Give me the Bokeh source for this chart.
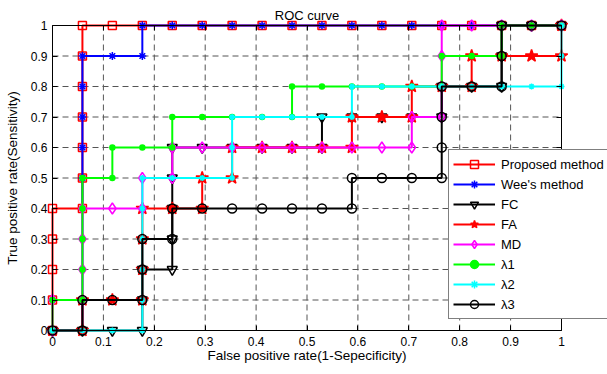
from bokeh.plotting import figure
from bokeh.models import Range1d, LinearAxis, FixedTicker, Legend, LegendItem, Label
from bokeh.embed import file_html
from bokeh.resources import INLINE

FONT = "Liberation Sans"

# ---------------- data ----------------
ticks = [0, 0.1, 0.2, 0.3, 0.4, 0.5, 0.6, 0.7, 0.8, 0.9, 1]
tick_labels = ["0", "0.1", "0.2", "0.3", "0.4", "0.5", "0.6", "0.7", "0.8", "0.9", "1"]

series_names = ["Proposed method", "Wee's method", "FC", "FA", "MD", "λ1", "λ2", "λ3"]

proposed_x = [0, 0, 0, 0, 0, 0.0588, 0.0588, 0.0588, 0.0588, 0.0588, 0.0588, 0.0588,
              0.1176, 0.1765, 0.2353, 0.2941, 0.3529, 0.4118, 0.4706, 0.5294, 0.5882,
              0.6471, 0.7059, 0.7647, 0.8235, 0.8824, 0.9412, 1]
proposed_y = [0, 0.1, 0.2, 0.3, 0.4, 0.4, 0.5, 0.6, 0.7, 0.8, 0.9, 1,
              1, 1, 1, 1, 1, 1, 1, 1, 1, 1, 1, 1, 1, 1, 1, 1]

wee_x = [0, 0.0588, 0.0588, 0.0588, 0.0588, 0.0588, 0.0588, 0.1176, 0.1765, 0.1765,
         0.2353, 0.2941, 0.3529, 0.4118, 0.4706, 0.5294, 0.5882, 0.6471, 0.7059,
         0.7647, 0.8235, 0.8824, 0.9412, 1]
wee_y = [0, 0, 0.5, 0.6, 0.7, 0.8, 0.9, 0.9, 0.9, 1,
         1, 1, 1, 1, 1, 1, 1, 1, 1, 1, 1, 1, 1, 1]

fc_x = [0, 0.0588, 0.1176, 0.1765, 0.1765, 0.1765, 0.2353, 0.2353, 0.2353, 0.2353,
        0.2353, 0.2941, 0.3529, 0.4118, 0.4706, 0.5294, 0.5294, 0.5882, 0.6471,
        0.7059, 0.7647, 0.7647, 0.8235, 0.8824, 0.8824, 0.8824, 0.9412, 1]
fc_y = [0, 0, 0, 0, 0.1, 0.2, 0.2, 0.3, 0.4, 0.5,
        0.6, 0.6, 0.6, 0.6, 0.6, 0.6, 0.7, 0.7, 0.7,
        0.7, 0.7, 0.8, 0.8, 0.8, 0.9, 1, 1, 1]

fa_x = [0, 0.0588, 0.0588, 0.1176, 0.1765, 0.1765, 0.1765, 0.1765, 0.2353, 0.2941,
        0.2941, 0.3529, 0.3529, 0.4118, 0.4706, 0.5294, 0.5882, 0.5882, 0.6471,
        0.7059, 0.7059, 0.7647, 0.8235, 0.8235, 0.8824, 0.9412, 1, 1]
fa_y = [0, 0, 0.1, 0.1, 0.1, 0.2, 0.3, 0.4, 0.4, 0.4,
        0.5, 0.5, 0.6, 0.6, 0.6, 0.6, 0.6, 0.7, 0.7,
        0.7, 0.8, 0.8, 0.8, 0.9, 0.9, 0.9, 0.9, 1]

md_x = [0, 0, 0.0588, 0.0588, 0.0588, 0.0588, 0.1176, 0.1765, 0.1765, 0.2353,
        0.2353, 0.2941, 0.3529, 0.4118, 0.4706, 0.5294, 0.5882, 0.6471, 0.7059,
        0.7059, 0.7647, 0.7647, 0.7647, 0.7647, 0.8235, 0.8824, 0.9412, 1]
md_y = [0, 0.1, 0.1, 0.2, 0.3, 0.4, 0.4, 0.4, 0.5, 0.5,
        0.6, 0.6, 0.6, 0.6, 0.6, 0.6, 0.6, 0.6, 0.6,
        0.7, 0.7, 0.8, 0.9, 1, 1, 1, 1, 1]

l1_x = [0, 0, 0.0588, 0.0588, 0.0588, 0.0588, 0.0588, 0.1176, 0.1176, 0.1765,
        0.2353, 0.2353, 0.2941, 0.3529, 0.4118, 0.4706, 0.4706, 0.5294, 0.5882,
        0.6471, 0.7059, 0.7647, 0.7647, 0.8235, 0.8824, 0.8824, 0.9412, 1]
l1_y = [0, 0.1, 0.1, 0.2, 0.3, 0.4, 0.5, 0.5, 0.6, 0.6,
        0.6, 0.7, 0.7, 0.7, 0.7, 0.7, 0.8, 0.8, 0.8,
        0.8, 0.8, 0.8, 0.9, 0.9, 0.9, 1, 1, 1]

l2_x = [0, 0.0588, 0.1176, 0.1765, 0.1765, 0.1765, 0.1765, 0.1765, 0.1765, 0.2353,
        0.2941, 0.3529, 0.3529, 0.3529, 0.4118, 0.4706, 0.5294, 0.5882, 0.5882,
        0.6471, 0.7059, 0.7647, 0.8235, 0.8824, 0.9412, 1, 1, 1]
l2_y = [0, 0, 0, 0, 0.1, 0.2, 0.3, 0.4, 0.5, 0.5,
        0.5, 0.5, 0.6, 0.7, 0.7, 0.7, 0.7, 0.7, 0.8,
        0.8, 0.8, 0.8, 0.8, 0.8, 0.8, 0.8, 0.9, 1]

l3_x = [0, 0.0588, 0.0588, 0.1176, 0.1765, 0.1765, 0.1765, 0.2353, 0.2353, 0.2941,
        0.3529, 0.4118, 0.4706, 0.5294, 0.5882, 0.5882, 0.6471, 0.7059, 0.7647,
        0.7647, 0.7647, 0.7647, 0.8235, 0.8824, 0.8824, 0.8824, 0.9412, 1]
l3_y = [0, 0, 0.1, 0.1, 0.1, 0.2, 0.3, 0.3, 0.4, 0.4,
        0.4, 0.4, 0.4, 0.4, 0.4, 0.5, 0.5, 0.5, 0.5,
        0.6, 0.7, 0.8, 0.8, 0.8, 0.9, 1, 1, 1]

series_x = [proposed_x, wee_x, fc_x, fa_x, md_x, l1_x, l2_x, l3_x]
series_y = [proposed_y, wee_y, fc_y, fa_y, md_y, l1_y, l2_y, l3_y]

# ---------------- styles ----------------
styles = [
    dict(color="#ff0000", marker="square", size=8, fill=None),
    dict(color="#0000ff", marker="asterisk", size=8, fill=None),
    dict(color="#000000", marker="inverted_triangle", size=10, fill=None),
    dict(color="#ff0000", marker="star", size=13, fill="#ff0000"),
    dict(color="#ff00ff", marker="diamond", size=11, fill=None),
    dict(color="#00ff00", marker="circle", size=5, fill="#00ff00"),
    dict(color="#00ffff", marker="asterisk", size=6, fill=None),
    dict(color="#000000", marker="circle", size=9, fill=None),
]

# ---------------- layout: the frame fills the whole canvas ----------------
W, H = 607, 374
AX_L, AX_R = 52, 561      # canvas x of data 0 and data 1
AX_T, AX_B = 25, 330      # canvas y of data 1 and data 0
sx = AX_R - AX_L
sy = AX_B - AX_T
x_start = -AX_L / sx
x_end = 1 + (W - AX_R) / sx
y_start = -(H - AX_B) / sy
y_end = 1 + AX_T / sy

p = figure(width=W, height=H, output_backend="svg", toolbar_location=None,
           x_range=Range1d(x_start, x_end), y_range=Range1d(y_start, y_end),
           x_axis_location=None, y_axis_location=None, min_border=0,
           min_border_left=0, min_border_right=0, min_border_top=0, min_border_bottom=0)
p.outline_line_color = None
p.grid.visible = False
p.background_fill_color = "white"
p.border_fill_color = "white"

# dashed grid at the inner ticks, limited to the axes box
inner = ticks[1:-1]
p.multi_line(xs=[[t, t] for t in inner], ys=[[ticks[0], ticks[-1]]] * len(inner),
             line_color="#555555", line_width=1, line_dash="6 4", level="underlay")
p.multi_line(xs=[[ticks[0], ticks[-1]]] * len(inner), ys=[[t, t] for t in inner],
             line_color="#555555", line_width=1, line_dash="6 4", level="underlay")

overrides = dict(zip(ticks, tick_labels))
blank = {t: "" for t in ticks}


def make_axis(loc, labels):
    ax = LinearAxis(fixed_location=loc, bounds=(ticks[0], ticks[-1]),
                    ticker=FixedTicker(ticks=ticks),
                    axis_line_color="black", axis_line_width=1,
                    major_tick_in=5, major_tick_out=0,
                    minor_tick_in=0, minor_tick_out=0,
                    major_tick_line_color="black", major_tick_line_width=1,
                    major_label_text_font=FONT, major_label_text_font_size="12px",
                    major_label_text_color="black",
                    axis_label_text_font=FONT, axis_label_text_font_size="13.5px",
                    axis_label_text_font_style="normal", axis_label_text_color="black")
    ax.major_label_overrides = overrides if labels else blank
    if not labels:
        ax.major_label_text_font_size = "0px"
        ax.major_label_standoff = 0
    return ax


xb = make_axis(ticks[0], True)
xb.major_label_standoff = 6
xb.axis_label = "False positive rate(1-Sepecificity)"
xb.axis_label_standoff = -1
p.add_layout(xb, "below")

yl = make_axis(ticks[0], True)
yl.major_label_standoff = 5
yl.axis_label = "True positive rate(Sensitivity)"
yl.axis_label_standoff = 8
p.add_layout(yl, "left")

xt = make_axis(ticks[-1], False)
p.add_layout(xt, "above")
yr = make_axis(ticks[-1], False)
p.add_layout(yr, "right")

# title
p.add_layout(Label(x=0.5, y=1, x_units="data", y_units="data", y_offset=10,
                   text="ROC curve", text_align="center", text_baseline="alphabetic",
                   text_font=FONT, text_font_size="13px", text_color="black"))

# series
items = []
for name, xs, ys, st in zip(series_names, series_x, series_y, styles):
    lr = p.line(xs, ys, line_color=st["color"], line_width=2)
    sr = p.scatter(xs, ys, marker=st["marker"], size=st["size"],
                   line_color=st["color"], line_width=1.5,
                   fill_color=st["fill"])
    items.append(LegendItem(label=name, renderers=[lr, sr]))

legend = Legend(items=items, location=(448, H - 319), padding=4, spacing=0, margin=0,
                glyph_width=42, glyph_height=20, label_height=20, label_standoff=6,
                label_text_font=FONT, label_text_font_size="13px",
                label_text_color="black",
                border_line_color="black", border_line_width=1,
                background_fill_color="white", background_fill_alpha=1)
p.add_layout(legend)

open("out.html", "w").write(file_html(p, INLINE))
